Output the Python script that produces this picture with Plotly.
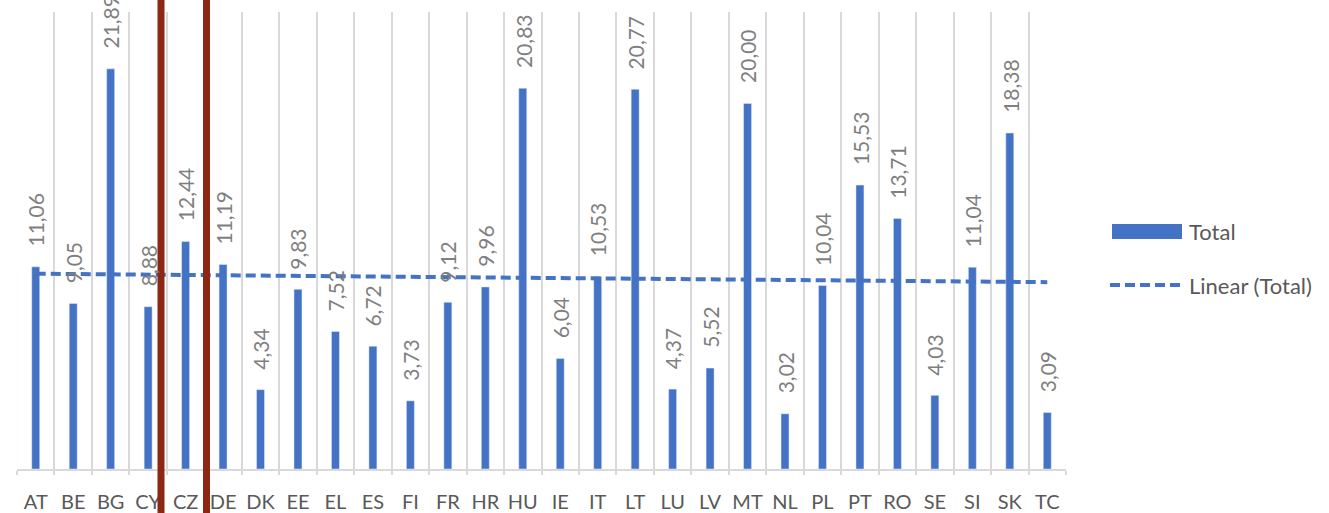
import numpy as np
import plotly.graph_objects as go

categories = ["AT", "BE", "BG", "CY", "CZ", "DE", "DK", "EE", "EL", "ES", "FI", "FR", "HR", "HU",
              "IE", "IT", "LT", "LU", "LV", "MT", "NL", "PL", "PT", "RO", "SE", "SI", "SK", "TC"]
totals = [11.06, 9.05, 21.89, 8.88, 12.44, 11.19, 4.34, 9.83, 7.52, 6.72, 3.73, 9.12, 9.96, 20.83,
          6.04, 10.53, 20.77, 4.37, 5.52, 20.00, 3.02, 10.04, 15.53, 13.71, 4.03, 11.04, 18.38, 3.09]
labels = [f"{v:.2f}".replace(".", ",") for v in totals]

BLUE = "#4472C4"
GRID = "#d9d9d9"
RED = "#8B2713"
FONT = "Lato"

# pixel -> paper helpers (plot area: x 17..1066, y 12..469)
L, R, T, B = 17, 1066, 12, 469
def px(x):
    return (x - L) / (R - L)
def py(y):
    return (B - y) / (B - T)

# linear trend (Excel "Linear (Total)")
idx = np.arange(1, len(totals) + 1)
slope, intercept = np.polyfit(idx, totals, 1)
trend = slope * idx + intercept

fig = go.Figure()
fig.add_trace(go.Bar(x=categories, y=totals, marker_color=BLUE, name="Total",
                     showlegend=False))
fig.add_trace(go.Scatter(x=categories, y=trend, mode="lines", name="Linear (Total)",
                         line=dict(color=BLUE, width=4, dash="10px,5px"), showlegend=False))

annotations = []
for c, v, t in zip(categories, totals, labels):
    annotations.append(dict(x=c, y=v, text=t, showarrow=False, textangle=-90,
                            yanchor="bottom", xanchor="center", yshift=18,
                            font=dict(family=FONT, size=21, color="#7f7f7f")))

# manual legend
annotations.append(dict(xref="paper", yref="paper", x=px(1187), y=py(232), text="Total",
                        showarrow=False, xanchor="left", yanchor="middle",
                        font=dict(family=FONT, size=22, color="#595959")))
annotations.append(dict(xref="paper", yref="paper", x=px(1187), y=py(285), text="Linear (Total)",
                        showarrow=False, xanchor="left", yanchor="middle",
                        font=dict(family=FONT, size=22, color="#595959")))

shapes = [
    dict(type="rect", xref="paper", yref="paper", x0=px(1112), x1=px(1182),
         y0=py(239), y1=py(224), fillcolor=BLUE, line=dict(width=0)),
    dict(type="line", xref="paper", yref="paper", x0=px(1110), x1=px(1183),
         y0=py(285), y1=py(285), line=dict(color=BLUE, width=4, dash="10px,5px")),
    dict(type="line", xref="paper", yref="paper", x0=px(161), x1=px(161),
         y0=py(513), y1=py(0), line=dict(color=RED, width=7)),
    dict(type="line", xref="paper", yref="paper", x0=px(206.5), x1=px(206.5),
         y0=py(513), y1=py(0), line=dict(color=RED, width=7)),
]

fig.update_layout(
    width=1329, height=513, autosize=False,
    margin=dict(l=L, r=1329 - R, t=T, b=513 - B),
    paper_bgcolor="white", plot_bgcolor="white",
    bargap=0.787, showlegend=False,
    annotations=annotations, shapes=shapes,
    font=dict(family=FONT, color="#595959"),
)
fig.update_xaxes(type="category", range=[-0.5, len(categories) - 0.5],
                 showgrid=True, gridcolor=GRID, gridwidth=2, tickson="boundaries",
                 showline=True, linecolor=GRID, linewidth=2,
                 ticks="outside", ticklen=4, tickcolor=GRID, tickwidth=2,
                 tickangle=0, automargin=False, ticklabelstandoff=14,
                 tickfont=dict(family=FONT, size=20, color="#595959"))
fig.update_yaxes(range=[0, 25], showgrid=False, zeroline=False, showticklabels=False,
                 showline=False, ticks="", automargin=False)

fig.write_html("out.html", config={"displayModeBar": False},
               post_script="document.body.style.margin='0';document.body.style.overflow='hidden';")
